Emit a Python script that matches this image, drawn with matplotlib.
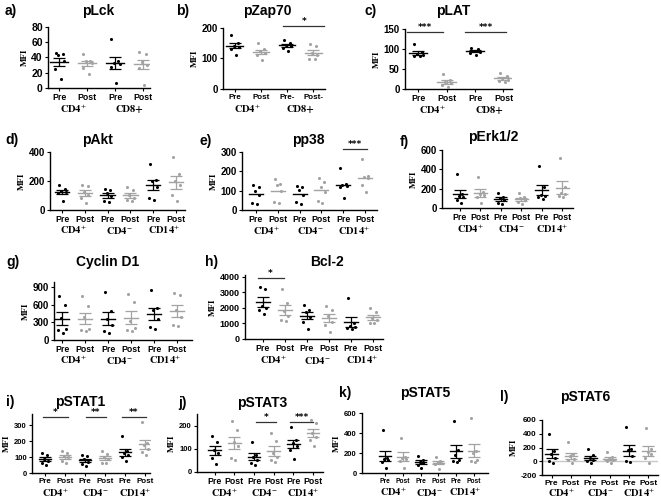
import matplotlib
matplotlib.use("Agg")
import matplotlib.pyplot as plt
import numpy as np
from matplotlib.transforms import blended_transform_factory

plt.rcParams["mathtext.fontset"] = "stix"

# ---------------- data (MFI values per group: Pre, Post, Pre, Post, ...) ----------------
plck = [[46, 44, 43, 36, 25, 12], [44, 36, 35, 33, 26, 19],
        [64, 35, 33, 31, 28, 6], [47, 44, 34, 30, 26, 4]]
pzap70 = [[178, 150, 142, 138, 130, 113], [150, 130, 124, 118, 110, 96],
          [160, 152, 145, 140, 136, 124], [148, 140, 118, 112, 98, 98]]
plat = [[113, 92, 88, 85, 83, 82], [37, 22, 18, 14, 10, 5],
        [103, 99, 96, 93, 90, 85], [39, 32, 27, 23, 20, 18]]
pakt = [[172, 145, 132, 122, 115, 62], [172, 165, 127, 104, 80, 46],
        [148, 140, 120, 95, 60, 52], [160, 140, 105, 80, 68, 60],
        [318, 205, 200, 160, 80, 72], [368, 250, 200, 170, 100, 65]]
pp38 = [[127, 117, 100, 80, 37, 29], [158, 134, 130, 100, 42, 37],
        [122, 117, 105, 80, 42, 29], [168, 145, 120, 92, 46, 37],
        [218, 135, 130, 126, 120, 62], [262, 175, 170, 168, 130, 93]]
perk = [[348, 140, 120, 110, 85, 48], [325, 170, 140, 130, 115, 50],
        [160, 118, 100, 80, 50, 38], [150, 115, 100, 85, 60, 38],
        [438, 220, 135, 120, 110, 95], [520, 220, 150, 140, 120, 115]]
cyclin = [[748, 590, 380, 180, 165, 125], [740, 570, 385, 180, 165, 150],
          [815, 490, 350, 250, 150, 120], [785, 640, 330, 200, 165, 155],
          [855, 550, 505, 350, 225, 180], [800, 760, 505, 395, 255, 245]]
bcl2 = [[3350, 3220, 2130, 1980, 1870, 1600], [3200, 2330, 1770, 1500, 1230, 1150],
        [2180, 1870, 1760, 1400, 1060, 640], [2120, 1860, 1480, 1120, 900, 470],
        [2600, 1000, 850, 780, 700, 640], [1980, 1760, 1340, 1230, 1050, 1000]]
pstat1 = [[128, 110, 90, 75, 62, 50], [140, 128, 108, 100, 75, 65],
          [112, 108, 86, 70, 55, 45], [135, 120, 100, 85, 65, 60],
          [235, 140, 125, 110, 100, 75], [318, 190, 175, 150, 130, 115]]
pstat3 = [[157, 130, 95, 80, 60, 36], [218, 180, 130, 110, 60, 50],
          [130, 75, 65, 50, 40, 32], [170, 135, 80, 65, 50, 45],
          [193, 140, 126, 114, 95, 55], [226, 212, 170, 150, 140, 114]]
pstat5 = [[430, 150, 140, 130, 115, 50], [355, 160, 150, 140, 125, 55],
          [175, 130, 115, 100, 80, 50], [165, 118, 110, 100, 90, 45],
          [520, 230, 180, 130, 120, 115], [555, 220, 200, 135, 125, 115]]
pstat6 = [[400, 150, 100, 50, 0, -25], [275, 110, 80, 30, 15, -25],
          [185, 85, 50, 15, 5, -30], [135, 60, 40, 20, 0, -20],
          [500, 180, 160, 80, 10, -10], [480, 175, 140, 100, 50, -20]]

tick_labels_4 = ["Pre", "Post", "Pre", "Post"]
tick_labels_b = ["Pre", "Post", "Pre-", "Post-"]
tick_labels_6 = ["Pre", "Post", "Pre", "Post", "Pre", "Post"]
groups_t = ["CD4$^{+}$", "CD8+"]
groups_3 = ["CD4$^{+}$", "CD4$^{-}$", "CD14$^{+}$"]

# ---------------- layout ----------------
W, H = 661, 500
fig = plt.figure(figsize=(W / 100, H / 100), dpi=100)

PRE_C = "#000000"
POST_C = "#a3a3a3"
JIT = [-0.13, 0.12, -0.04, 0.16, -0.16, 0.05]


def add_ax(l, r, top, bottom):
    return fig.add_axes([l / W, 1 - bottom / H, (r - l) / W, (bottom - top) / H])


def panel(values, box, ylim, yticks, xlim, ticklabels, groups, title, tpos, label, lpos,
          tick_fs=6.3, ytick_fs=7, grp_y=None, sig=(), err=True, zero_line=False,
          grp_fs=7.5):
    ax = add_ax(*box)
    for i, vals in enumerate(values):
        c = PRE_C if i % 2 == 0 else POST_C
        v = np.asarray(vals, dtype=float)
        ax.scatter(np.full(len(v), i) + np.array(JIT[:len(v)]), v, s=5, color=c,
                   zorder=3, linewidths=0)
        m = v.mean()
        ax.plot([i - 0.32, i + 0.32], [m, m], color=c, lw=1.0, zorder=4)
        if err:
            se = v.std(ddof=1) / np.sqrt(len(v))
            ax.errorbar([i], [m], yerr=[se], color=c, lw=0.9, capsize=4.5,
                        capthick=0.9, zorder=4, fmt="none")
    if zero_line:
        ax.axhline(0, color="#c8c8c8", lw=1.0, zorder=1)
    ax.set_xlim(*xlim)
    ax.set_ylim(*ylim)
    ax.set_yticks(yticks)
    ax.set_yticklabels([str(t) for t in yticks], fontsize=ytick_fs, fontweight="bold",
                       family="Liberation Sans")
    ax.set_xticks(range(len(values)))
    ax.set_xticklabels(ticklabels, fontsize=tick_fs, fontweight="bold",
                       family="Liberation Sans")
    ax.tick_params(axis="both", length=2.5, width=0.8, pad=1.2)
    for s in ["top", "right"]:
        ax.spines[s].set_visible(False)
    for s in ["left", "bottom"]:
        ax.spines[s].set_linewidth(1.0)
    ax.set_ylabel("MFI", fontsize=6.5, fontweight="bold", family="Liberation Serif",
                  labelpad=2)
    tr = blended_transform_factory(ax.transData, fig.transFigure)
    for k, g in enumerate(groups):
        ax.text(2 * k + 0.5, 1 - grp_y / H, g, transform=tr, ha="center", va="center",
                fontsize=grp_fs, fontweight="bold", family="STIXGeneral")
    for (x1, x2, y, txt) in sig:
        ax.plot([x1, x2], [y, y], color="#333333", lw=0.9, clip_on=False)
        ax.text((x1 + x2) / 2, y, txt, ha="center", va="bottom", fontsize=6.5,
                fontweight="bold", clip_on=False)
    fig.text(tpos[0] / W, 1 - tpos[1] / H, title, ha="center", va="center",
             fontsize=10, fontweight="bold", family="Liberation Sans")
    fig.text(lpos[0] / W, 1 - lpos[1] / H, label, ha="left", va="center",
             fontsize=10, fontweight="bold", family="Liberation Sans")
    return ax


# Row 1
panel(plck, (48, 150, 27, 88), (0, 80), [0, 20, 40, 60, 80], (-0.4, 3.25),
      tick_labels_4, groups_t, "pLck", (98, 11), "a)", (5, 11), grp_y=109,
      ytick_fs=7.5)
panel(pzap70, (223, 325, 28, 89), (0, 200), [0, 100, 200], (-0.45, 3.45),
      tick_labels_b, groups_t, "pZap70", (267, 11), "b)", (176, 11), tick_fs=5.8,
      grp_y=109, sig=[(1.85, 3.42, 205, "*")])
panel(plat, (405, 512, 29, 89), (0, 150), [0, 50, 100, 150], (-0.46, 3.3),
      tick_labels_4, groups_t, "pLAT", (453, 11), "c)", (365, 11), grp_y=110,
      sig=[(-0.39, 0.88, 142, "***"), (1.66, 3.08, 142, "***")])

# Row 2
panel(pakt, (50, 185, 152, 210), (0, 400), [0, 200, 400], (-0.53, 5.4),
      tick_labels_6, groups_3, "pAkt", (97, 140), "d)", (5, 140), grp_y=230)
panel(pp38, (242, 377, 152, 210), (0, 300), [0, 100, 200, 300], (-0.64, 5.55),
      tick_labels_6, groups_3, "pp38", (308, 140), "e)", (199, 141), grp_y=231,
      err=False, sig=[(4.0, 5.1, 314, "***")])
panel(perk, (442, 573, 150, 208), (0, 600), [0, 200, 400, 600], (-0.88, 5.53),
      tick_labels_6, groups_3, "pErk1/2", (493, 137), "f)", (400, 142), grp_y=229)

# Row 3
panel(cyclin, (54, 192, 282, 340), (0, 985), [0, 300, 600, 900], (-0.35, 5.65),
      tick_labels_6, groups_3, "Cyclin D1", (108, 262), "g)", (6, 262), grp_y=360)
panel(bcl2, (245, 383, 275, 339), (0, 4100), [0, 1000, 2000, 3000, 4000], (-0.8, 5.45),
      tick_labels_6, groups_3, "Bcl-2", (327, 262), "h)", (205, 262), grp_y=360,
      ytick_fs=6.5, sig=[(-0.23, 0.95, 3900, "*")])

# Row 4
panel(pstat1, (32, 150, 414, 473), (0, 370), [0, 100, 200, 300], (-0.65, 5.25),
      tick_labels_6, groups_3, "pSTAT1", (80, 402), "i)", (6, 402), tick_fs=5.8,
      ytick_fs=5.5, grp_y=493, sig=[(-0.1, 1.15, 350, "*"), (2.05, 3.05, 350, "**"),
                                    (3.85, 5.05, 350, "**")])
panel(pstat3, (197, 323, 414, 472), (0, 250), [0, 100, 200], (-0.9, 5.5),
      tick_labels_6, groups_3, "pSTAT3", (262, 403), "j)", (178, 403), tick_fs=6.3,
      ytick_fs=5.5, grp_y=493, sig=[(2.1, 3.1, 217, "*"), (3.83, 5.0, 217, "***")])
panel(pstat5, (362, 488, 413, 473), (0, 600), [0, 200, 400, 600], (-1.3, 5.8),
      tick_labels_6, groups_3, "pSTAT5", (425, 393), "k)", (339, 393), tick_fs=4.8,
      ytick_fs=5.5, grp_y=492)
panel(pstat6, (542, 658, 420, 475), (-200, 600), [-200, 0, 200, 400, 600], (-0.5, 5.5),
      tick_labels_6, groups_3, "pSTAT6", (585, 397), "l)", (500, 397), tick_fs=6,
      ytick_fs=5.8, grp_y=493, zero_line=True)

fig.savefig("out.png", dpi=100)
